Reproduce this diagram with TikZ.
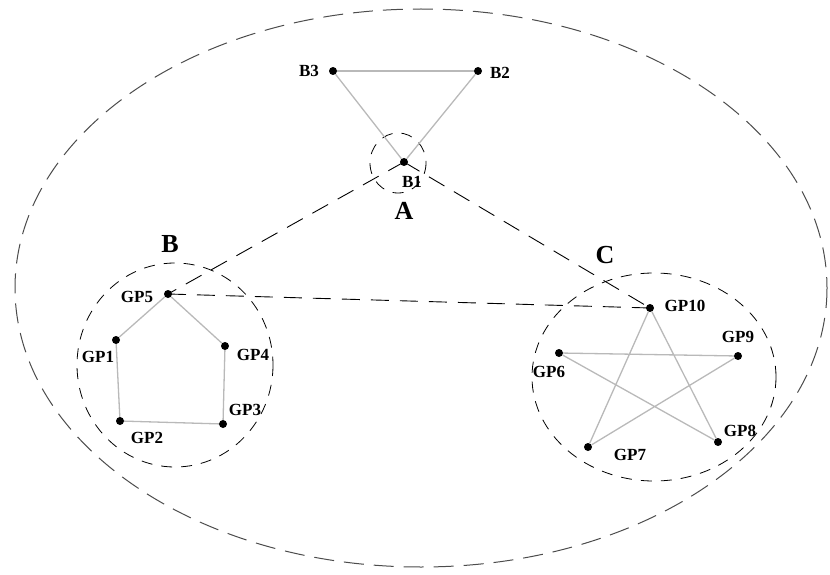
\documentclass[tikz,border=0pt]{standalone}
\usepackage{fontspec}
\setmainfont{Liberation Serif}
\usepackage{tikz}
\usetikzlibrary{positioning, calc}
\definecolor{edgegray}{RGB}{185,185,185}

\tikzset{
	dot/.style={circle, fill=black, inner sep=0pt, minimum size=8pt},
	lbl/.style={inner sep=0pt, font=\bfseries\fontsize{17}{17}\selectfont},
	biglbl/.style={inner sep=0pt, font=\bfseries\fontsize{26}{26}\selectfont},
	link/.style={draw=edgegray, line width=1.3pt},
	zone/.style={dash pattern=on 11pt off 9pt, line width=0.8pt},
	tie/.style={dash pattern=on 18pt off 11pt, line width=0.9pt}
}

\begin{document}
\begin{tikzpicture}[x=1pt,y=-1pt]
	\useasboundingbox (0,0) rectangle (830,575);
	% outer boundary
	\draw[black!70, dash pattern=on 20pt off 10pt, line width=1pt] (421,288) ellipse [x radius=406, y radius=279];
	% group zones
	\draw[zone] (398,163) ellipse [x radius=28, y radius=30];
	\draw[zone] (175,365) ellipse [x radius=98, y radius=102];
	\draw[zone] (654,377) ellipse [x radius=122, y radius=104];

	% top triangle
	\node[dot] (b1) at (404,162) {};
	\node[dot] (b2) at (478,71) {};
	\node[dot] (b3) at (333,71) {};
	\draw[link, line width=2pt] (b3) -- (b2);
	\draw[link] (b3) -- (b1);
	\draw[link] (b2) -- (b1);

	% pentagon
	\node[dot] (gp1) at (116,340) {};
	\node[dot] (gp2) at (120,421) {};
	\node[dot] (gp3) at (223,424) {};
	\node[dot] (gp4) at (225,346) {};
	\node[dot] (gp5) at (168,294) {};
	\draw[link] (gp5) -- (gp1) -- (gp2) -- (gp3) -- (gp4) -- (gp5);

	% star
	\node[dot] (gp6) at (559,353) {};
	\node[dot] (gp7) at (588,447) {};
	\node[dot] (gp8) at (718,442) {};
	\node[dot] (gp9) at (738,356) {};
	\node[dot] (gp10) at (650,308) {};
	\draw[link] (gp10) -- (gp7) -- (gp9) -- (gp6) -- (gp8) -- (gp10);

	% links between groups
	\draw[tie] (b1.center) -- (gp5.center);
	\draw[tie] (b1.center) -- (gp10.center);
	\draw[tie] (gp5.center) -- (gp10.center);

	% labels
	\node[lbl] (t1) at (412,182) {B1};
	\node[lbl] (t2) at (500,73) {B2};
	\node[lbl] (t3) at (309,71) {B3};
	\node[lbl] (t4) at (98,357) {GP1};
	\node[lbl] (t5) at (147,438) {GP2};
	\node[lbl] (t6) at (245,410) {GP3};
	\node[lbl] (t7) at (253,355) {GP4};
	\node[lbl] (t8) at (137,297) {GP5};
	\node[lbl] (t9) at (549,372) {GP6};
	\node[lbl] (t10) at (630,455) {GP7};
	\node[lbl] (t11) at (740,431) {GP8};
	\node[lbl] (t12) at (738,337) {GP9};
	\node[lbl] (t13) at (685,306) {GP10};
	\node[biglbl] (za) at (404,211) {A};
	\node[biglbl] (zb) at (170,244) {B};
	\node[biglbl] (zc) at (605,255) {C};
\end{tikzpicture}
\end{document}
